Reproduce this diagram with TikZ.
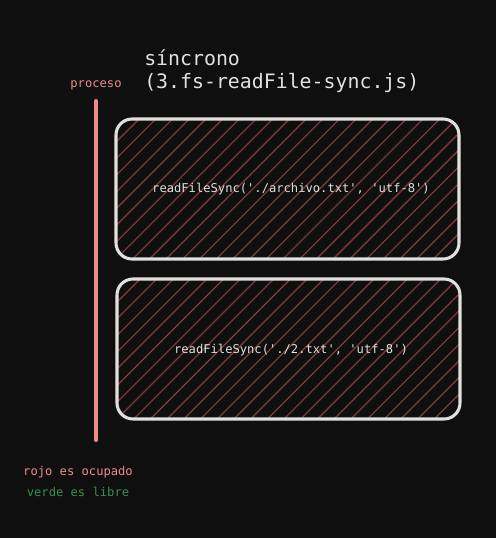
\documentclass[tikz,border=0pt]{standalone}
\usepackage{fontspec}
\setmonofont{DejaVu Sans Mono}
\usepackage{xcolor}
\usepackage{tikz}
\usetikzlibrary{calc}
\definecolor{bgDark}{HTML}{0F0F0F}
\definecolor{inkLight}{HTML}{E0E0E0}
\definecolor{busyRed}{HTML}{F08A8A}
\definecolor{hatchRed}{HTML}{7A3838}
\definecolor{freeGreen}{HTML}{3A8F4A}
\tikzset{
  hatchline/.style={hatchRed,line width=1pt},
  procbox/.style={draw=inkLight,line width=2.3pt,rounded corners=12pt,
    minimum width=343*0.75pt,minimum height=140*0.75pt,inner sep=0pt,
    path picture={\foreach \k in {-12,...,22}
      {\draw[hatchline] ($(path picture bounding box.south west)+(\k*16.7,0)$) -- ++(220,-220);}}},
  codetxt/.style={text=inkLight,font=\ttfamily\fontsize{9.1}{11}\selectfont},
}
\begin{document}
\begin{tikzpicture}[x=0.75pt,y=-0.75pt]
\fill[bgDark] (0,0) rectangle (496,538);
\useasboundingbox (0,0) rectangle (496,538);
% titulo
\node[anchor=base west,inner sep=0pt,text=inkLight,font=\ttfamily\fontsize{14.9}{17}\selectfont] (titleA) at (144,66) {síncrono};
\node[anchor=base west,inner sep=0pt,text=inkLight,font=\ttfamily\fontsize{14.9}{17}\selectfont] (titleB) at (144,89) {(3.fs-readFile-sync.js)};
\node[anchor=base,inner sep=0pt,text=busyRed,font=\ttfamily\fontsize{9.1}{11}\selectfont] (proceso) at (96,88) {proceso};
% linea del proceso
\coordinate (procTop) at (96,101);
\coordinate (procBot) at (96,440);
\draw[busyRed,line width=3pt,line cap=round] (procTop) -- (procBot);
% tareas
\node[procbox] (taskA) at (287.5,189) {};
\node[procbox] (taskB) at (288.5,349) {};
\node[codetxt,anchor=base,inner sep=0pt] (codeA) at (291,193) {readFileSync('./archivo.txt', 'utf-8')};
\node[codetxt,anchor=base,inner sep=0pt] (codeB) at (291,353) {readFileSync('./2.txt', 'utf-8')};
% leyenda
\node[anchor=base,inner sep=0pt,text=busyRed,font=\ttfamily\fontsize{9.1}{11}\selectfont] (legBusy) at (78,475) {rojo es ocupado};
\node[anchor=base,inner sep=0pt,text=freeGreen,font=\ttfamily\fontsize{9.1}{11}\selectfont] (legFree) at (78,496) {verde es libre};
\end{tikzpicture}
\end{document}
